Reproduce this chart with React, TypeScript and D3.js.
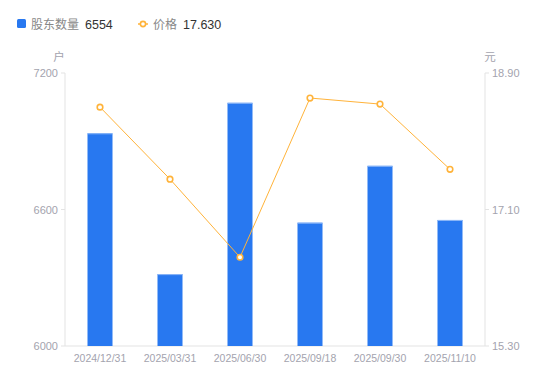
import React from "react";
import * as d3 from "d3";

const categories = ["2024/12/31", "2025/03/31", "2025/06/30", "2025/09/18", "2025/09/30", "2025/11/10"];
const holders = [6935, 6316, 7069, 6542, 6792, 6554];
const prices = [18.45, 17.50, 16.47, 18.57, 18.49, 17.63];
const leftTicks = [6000, 6600, 7200];
const rightTicks = [15.3, 17.1, 18.9];

const W = 550, H = 381;
const left = 65, right = 485, top = 73, bottom = 346;
const BLUE = "#2878f0";
const ORANGE = "#ffb33a";
const AXIS = "#e3e3e3";
const LABEL = "#a3a3ae";
const FONT = "'Liberation Sans', Arial, 'Noto Sans CJK SC', sans-serif";

export default function App() {
  const x = d3.scaleBand<string>().domain(categories).range([left, right]).paddingInner(0).paddingOuter(0);
  const yL = d3.scaleLinear().domain([6000, 7200]).range([bottom, top]);
  const yR = d3.scaleLinear().domain([15.3, 18.9]).range([bottom, top]);
  const bw = 25;
  const cx = (c: string) => (x(c) as number) + x.bandwidth() / 2;
  const line = d3.line<number>().x((_, i) => cx(categories[i])).y((d) => yR(d));

  return (
    <svg width={W} height={H} style={{ position: "absolute", left: 0, top: 0, fontFamily: FONT }}>
      {/* legend */}
      <rect x={17} y={19} width={9} height={9} rx={1.5} fill={BLUE} />
      <text x={31} y={28.5} fontSize={12} fill="#888">股东数量</text>
      <text x={85} y={28.5} fontSize={12.5} fill="#333">6554</text>
      <line x1={138} x2={148} y1={24} y2={24} stroke={ORANGE} strokeWidth={1.5} />
      <circle cx={143} cy={24} r={2.6} fill="#fff" stroke={ORANGE} strokeWidth={1.6} />
      <text x={153} y={28.5} fontSize={12} fill="#888">价格</text>
      <text x={183} y={28.5} fontSize={12.5} fill="#333">17.630</text>

      {/* unit labels */}
      <text x={59} y={61} fontSize={11.5} fill={LABEL} textAnchor="middle">户</text>
      <text x={490} y={61} fontSize={11.5} fill={LABEL} textAnchor="middle">元</text>

      {/* axes */}
      <line x1={left} x2={left} y1={top} y2={bottom} stroke={AXIS} />
      <line x1={right} x2={right} y1={top} y2={bottom} stroke={AXIS} />
      <line x1={left} x2={right} y1={bottom} y2={bottom} stroke={AXIS} />
      {leftTicks.map((t) => (
        <g key={"l" + t}>
          <line x1={left - 4} x2={left} y1={yL(t)} y2={yL(t)} stroke={AXIS} />
          <text x={58} y={yL(t) + 4} fontSize={11} fill={LABEL} textAnchor="end">{t}</text>
        </g>
      ))}
      {rightTicks.map((t) => (
        <g key={"r" + t}>
          <line x1={right} x2={right + 4} y1={yR(t)} y2={yR(t)} stroke={AXIS} />
          <text x={492} y={yR(t) + 4} fontSize={11} fill={LABEL} textAnchor="start">{t.toFixed(2)}</text>
        </g>
      ))}
      {categories.map((c) => (
        <text key={c} x={cx(c)} y={362} fontSize={10.5} fill={LABEL} textAnchor="middle">{c}</text>
      ))}

      {/* bars */}
      {holders.map((v, i) => (
        <g key={"b" + i}>
          <rect x={cx(categories[i]) - bw / 2} y={yL(v)} width={bw} height={bottom - yL(v)} fill={BLUE} />
          <line x1={cx(categories[i]) - bw / 2} x2={cx(categories[i]) + bw / 2} y1={yL(v) + 0.5} y2={yL(v) + 0.5} stroke="#8fb8f7" strokeWidth={1} />
        </g>
      ))}

      {/* line */}
      <path d={line(prices) || ""} fill="none" stroke={ORANGE} strokeWidth={1} />
      {prices.map((p, i) => (
        <circle key={"p" + i} cx={cx(categories[i])} cy={yR(p)} r={2.8} fill="#fff" stroke={ORANGE} strokeWidth={1.6} />
      ))}
    </svg>
  );
}
